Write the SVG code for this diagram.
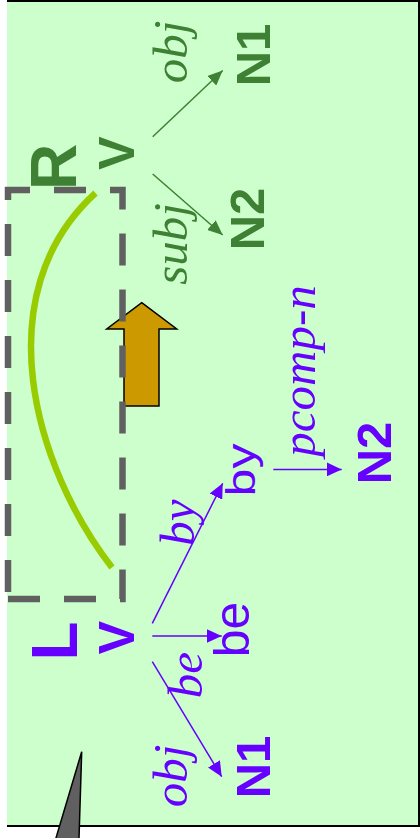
<svg xmlns="http://www.w3.org/2000/svg" width="420" height="838" viewBox="0 0 420 838">
<style>
.sb{font-family:"Liberation Sans",Arial,sans-serif;font-weight:bold}
.sr{font-family:"Liberation Sans",Arial,sans-serif}
.it{font-family:"Liberation Serif","Times New Roman",serif;font-style:italic;font-size:49px}
.g{fill:#3E8034}
.p{fill:#6600FF}
.lg{stroke:#3E8034;stroke-width:1.5;fill:none;marker-end:url(#ag)}
.lp{stroke:#6600FF;stroke-width:1.5;fill:none;marker-end:url(#ap)}
</style>
<defs>
<marker id="ag" markerUnits="userSpaceOnUse" markerWidth="15" markerHeight="13" refX="15" refY="6.5" orient="auto"><path d="M0,0 L15,6.5 L0,13 Z" fill="#3E8034"/></marker>
<marker id="ap" markerUnits="userSpaceOnUse" markerWidth="15" markerHeight="14" refX="15" refY="7" orient="auto"><path d="M0,0 L15,7 L0,14 Z" fill="#6600FF"/></marker>
</defs>
<rect x="0" y="0" width="420" height="838" fill="#FFFFFF"/>
<rect x="7" y="1" width="412" height="825" fill="#CCFFCC"/>
<path d="M7,1 H419 V826 H7" fill="none" stroke="#000" stroke-width="2"/>
<g id="shift-arrow">
<path d="M141.7,302.7 L176.7,329 L159,329 L159,406 L124,406 L124,329 L106.7,329 Z" fill="#CC9900" stroke="#000" stroke-width="1.5"/>
</g>
<g id="arc">
<path d="M95.5,193 C-15,294 34,467 112,567.5" fill="none" stroke="#99CC00" stroke-width="6.5"/>
</g>
<g id="box">
<path d="M8,599 H122.5 V190 H8 Z" fill="none" stroke="#606060" stroke-width="6.5" stroke-dasharray="32 24"/>
</g>
<g id="node-R"><text class="sb g" font-size="64" text-anchor="middle" transform="translate(76,167) rotate(-90)">R</text></g>
<g id="node-R-V"><text class="sb g" font-size="50" text-anchor="middle" transform="translate(134,153) rotate(-90)">V</text></g>
<g id="node-R-N1"><text class="sb g" font-size="49" text-anchor="middle" transform="translate(270,55) rotate(-90)">N1</text></g>
<g id="node-R-N2"><text class="sb g" font-size="49" text-anchor="middle" transform="translate(264,219) rotate(-90)">N2</text></g>
<g id="node-L"><text class="sb p" font-size="64" text-anchor="middle" transform="translate(77,641) rotate(-90)">L</text></g>
<g id="node-L-V"><text class="sb p" font-size="50" text-anchor="middle" transform="translate(134,637.5) rotate(-90)">V</text></g>
<g id="node-L-be"><text class="sr p" font-size="50" text-anchor="middle" transform="translate(249,629.5) rotate(-90)">be</text></g>
<g id="node-L-by"><text class="sr p" font-size="50" text-anchor="middle" transform="translate(255,470) rotate(-90) scale(1,0.8)">by</text></g>
<g id="node-L-N2"><text class="sb p" font-size="49" text-anchor="middle" transform="translate(391,453) rotate(-90)">N2</text></g>
<g id="node-L-N1"><text class="sb p" font-size="49" text-anchor="middle" transform="translate(270,767) rotate(-90)">N1</text></g>
<g id="connectors">
<path class="lg" d="M152.7,136.7 L222.7,70.5"/>
<path class="lg" d="M152.7,174 L222.7,235"/>
<path class="lp" d="M152.3,623.3 L222.7,483.3"/>
<path class="lp" d="M152.3,636 L221.7,636"/>
<path class="lp" d="M152.3,661.7 L221.7,776.7"/>
<path class="lp" d="M273.3,469.4 L341.7,469.4"/>
<text class="it g" text-anchor="middle" transform="translate(186.5,52) rotate(-90)">obj</text>
<text class="it g" text-anchor="middle" transform="translate(186.5,244) rotate(-90)">subj</text>
<text class="it p" text-anchor="middle" transform="translate(193.5,522.5) rotate(-90)">by</text>
<text class="it p" text-anchor="middle" transform="translate(201.5,675) rotate(-90)">be</text>
<text class="it p" text-anchor="middle" transform="translate(186.5,776) rotate(-90)">obj</text>
<text class="it p" text-anchor="middle" transform="translate(315,371) rotate(-90)">pcomp-n</text>
</g>
<g id="pointer">
<path d="M81.7,751.7 L53.9,845 L78.8,845 Z" fill="#606060" stroke="#000" stroke-width="1.5"/>
</g>
</svg>
